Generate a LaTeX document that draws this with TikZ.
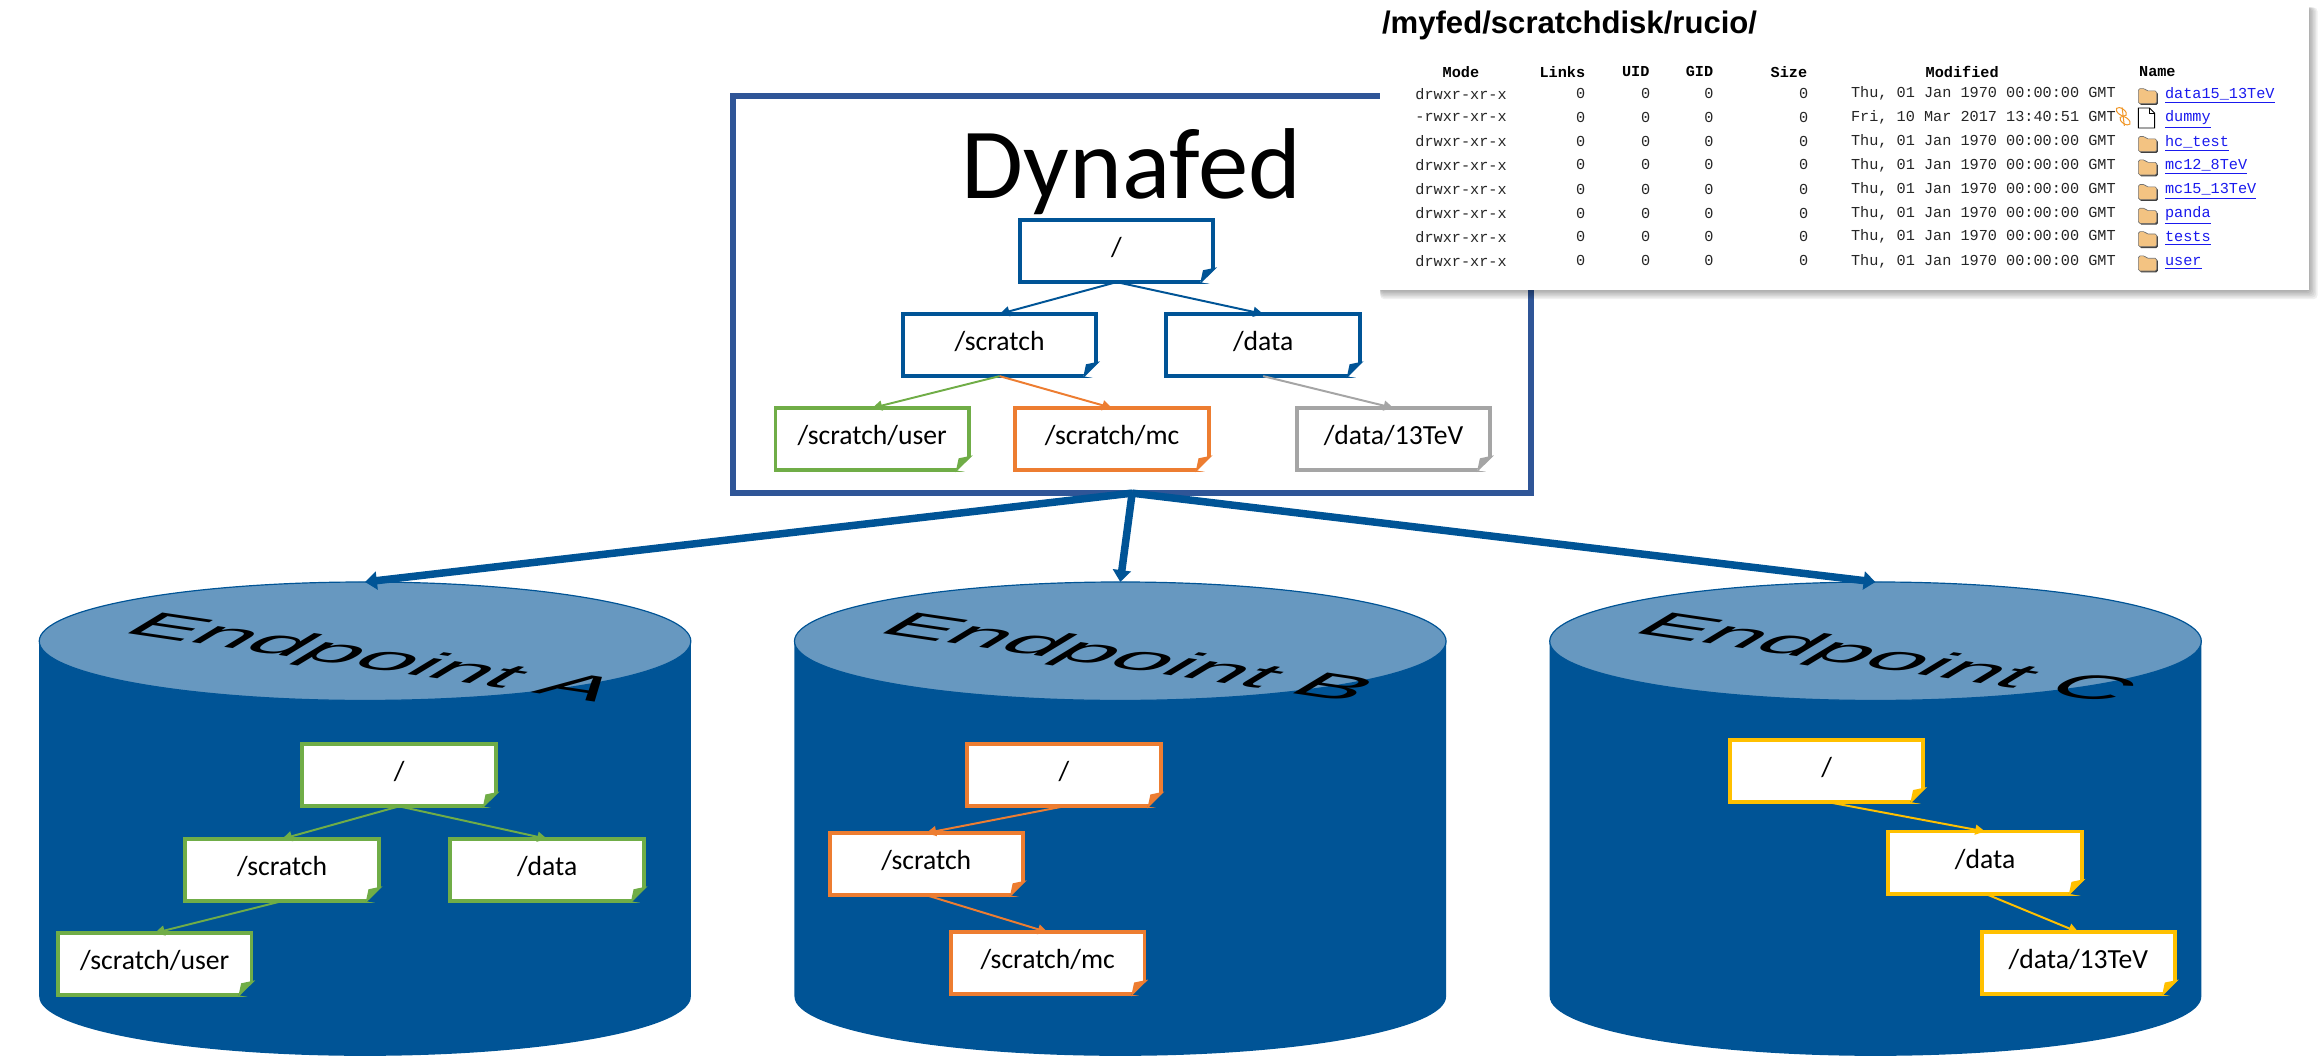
\documentclass[tikz,border=0pt]{standalone}
\usepackage{fontspec}
\usepackage{xcolor}
\usepackage{tikz}
\usetikzlibrary{arrows.meta, calc}
\setmainfont{Carlito}
\newfontfamily\titlefont{Liberation Sans}
\newfontfamily\listfont{Liberation Mono}
\definecolor{fBlue}{HTML}{005496}
\definecolor{fTop}{HTML}{6798C0}
\definecolor{fFrame}{HTML}{2F5597}
\definecolor{fGreen}{HTML}{70AD47}
\definecolor{fOrange}{HTML}{ED7D31}
\definecolor{fGrey}{HTML}{A5A5A5}
\definecolor{fYellow}{HTML}{FFC000}
\definecolor{fLink}{HTML}{1A1AEE}
\definecolor{fFolder}{HTML}{F3C382}
\tikzstyle{fFrameBox} = [rectangle, minimum width=404pt, minimum height=201pt, outer sep=0pt, draw=fFrame, line width=3pt]
\tikzstyle{fNote} = [rectangle, minimum width=98pt, minimum height=31.5pt, inner sep=0pt, outer sep=0pt, line width=2pt, fill=white, font=\fontsize{14}{14}\selectfont, text height=9pt, text depth=3.5pt, text=black]
\tikzstyle{fBarrel} = [rectangle, minimum width=330pt, minimum height=240pt, inner sep=0pt, outer sep=0pt]
\tikzstyle{fTilted} = [cm={2.46,-0.365,1.259,0.762,(0,0)}, anchor=base west, inner sep=0pt, font=\titlefont\fontsize{20}{20}\selectfont, text=black]
\tikzstyle{fArrow} = [line width=1pt, -{Triangle[length=5pt,width=5pt]}]
\tikzstyle{fBigArrow} = [line width=3.8pt, draw=fBlue, -{Triangle[length=6pt,width=9pt]}]
\tikzstyle{fCell} = [inner sep=0pt, outer sep=0pt, font=\listfont\fontsize{7.7}{8}\selectfont, text=black!85]
\tikzstyle{fHead} = [fCell, font=\listfont\bfseries\fontsize{7.7}{8}\selectfont, text=black]
\tikzset{
  pics/fFolderIcon/.style={code={
    \fill[black!75, rounded corners=0.8pt, shift={(0.8,0.9)}] (0,6.8) -- (0,-3.4) -- (4.5,-3.4) -- (5.5,-1.8) -- (12.4,-1.8) -- (12.4,6.8) -- cycle;
    \filldraw[fill=fFolder, draw=black!55, line width=.3pt, rounded corners=0.8pt] (0,6.8) -- (0,-3.4) -- (4.5,-3.4) -- (5.5,-1.8) -- (12.4,-1.8) -- (12.4,6.8) -- cycle;
  }},
  pics/fPageIcon/.style={code={
    \filldraw[fill=white, draw=black, line width=.45pt] (0,-6.3) -- (7.5,-6.3) -- (11,-2.8) -- (11,7.2) -- (0,7.2) -- cycle;
    \draw[black, line width=.35pt] (7.5,-6.3) -- (7.5,-2.8) -- (11,-2.8);
  }}
}
\newcommand{\foldCorner}[3]{
  \fill[#3] ($(#1.south east)+(-9,0)$) -- ($(#1.south east)+(2.5,2)$) -- ($(#1.south east)+(2.5,-10)$) -- cycle;
  \fill[#2] ($(#1.south east)+(-9,1.4)$) -- ($(#1.south east)+(-7,-8)$) -- ($(#1.south east)+(2.5,-10)$) -- cycle;
}

\begin{document}
\begin{tikzpicture}[x=0.75pt, y=-0.75pt]
    \useasboundingbox (0,0) rectangle (1568,713.76);

    \node (dynBox) [fFrameBox] at (764.5,199) {};
    \node (dynTitle) [font=\fontsize{51}{51}\selectfont, inner sep=0pt] at (764,116) {Dynafed};

    \node (dynRoot) [fNote, draw=fBlue] at (754,169.5) {/};
    \node (dynScratch) [fNote, draw=fBlue] at (675,233) {/scratch};
    \node (dynData) [fNote, draw=fBlue] at (853,233) {/data};
    \node (dynUser) [fNote, draw=fGreen] at (589,296.5) {/scratch/user};
    \node (dynMc) [fNote, draw=fOrange] at (751,296.5) {/scratch/mc};
    \node (dynTeV) [fNote, draw=fGrey] at (941,296.5) {/data/13TeV};

    \node (endA) [fBarrel] at (246.5,553) {};
    \node (endB) [fBarrel] at (756.5,553) {};
    \node (endC) [fBarrel] at (1266.5,553) {};
    \foreach \n in {endA,endB,endC}{
        \fill[fBlue] ($(\n.north west)+(0,40)$) -- ($(\n.south west)+(0,-40)$) arc[start angle=180, end angle=360, x radius=165pt, y radius=30pt] -- ($(\n.north east)+(0,40)$) -- cycle;
        \filldraw[fill=fTop, draw=fBlue, line width=.6pt] ($(\n.north)+(0,40)$) ellipse [x radius=165pt, y radius=30pt];
    }
    \node (labelA) [fTilted] at (80.6,426.7) {Endpoint A};
    \node (labelB) [fTilted] at (590.6,426.7) {Endpoint B};
    \node (labelC) [fTilted] at (1100.6,426.7) {Endpoint C};

    \node (aRoot) [fNote, draw=fGreen] at (269.5,523.5) {/};
    \node (aScratch) [fNote, draw=fGreen] at (190.5,587.5) {/scratch};
    \node (aData) [fNote, draw=fGreen] at (369.5,587.5) {/data};
    \node (aUser) [fNote, draw=fGreen] at (104.5,651) {/scratch/user};

    \node (bRoot) [fNote, draw=fOrange] at (718.5,523.5) {/};
    \node (bScratch) [fNote, draw=fOrange] at (625.5,583.5) {/scratch};
    \node (bMc) [fNote, draw=fOrange] at (707.5,650.5) {/scratch/mc};

    \node (cRoot) [fNote, draw=fYellow] at (1233.5,520.5) {/};
    \node (cData) [fNote, draw=fYellow] at (1340.5,582.5) {/data};
    \node (cTeV) [fNote, draw=fYellow] at (1403.5,650.5) {/data/13TeV};

    \foreach \n/\c/\b in {dynRoot/fBlue/white, dynScratch/fBlue/white, dynData/fBlue/white, dynUser/fGreen/white, dynMc/fOrange/white, dynTeV/fGrey/white, aRoot/fGreen/fBlue, aScratch/fGreen/fBlue, aData/fGreen/fBlue, aUser/fGreen/fBlue, bRoot/fOrange/fBlue, bScratch/fOrange/fBlue, bMc/fOrange/fBlue, cRoot/fYellow/fBlue, cData/fYellow/fBlue, cTeV/fYellow/fBlue}{
        \foldCorner{\n}{\c}{\b}
    }

    \draw [fArrow, fBlue] (dynRoot.south) -- (dynScratch.north);
    \draw [fArrow, fBlue] (dynRoot.south) -- (dynData.north);
    \draw [fArrow, fGreen] (dynScratch.south) -- (dynUser.north);
    \draw [fArrow, fOrange] (dynScratch.south) -- (dynMc.north);
    \draw [fArrow, fGrey] (dynData.south) -- (dynTeV.north);
    \draw [fArrow, fGreen] (aRoot.south) -- (aScratch.north);
    \draw [fArrow, fGreen] (aRoot.south) -- (aData.north);
    \draw [fArrow, fGreen] (aScratch.south) -- (aUser.north);
    \draw [fArrow, fOrange] (bRoot.south) -- (bScratch.north);
    \draw [fArrow, fOrange] (bScratch.south) -- (bMc.north);
    \draw [fArrow, fYellow] (cRoot.south) -- (cData.north);
    \draw [fArrow, fYellow] (cData.south) -- (cTeV.north);

    \draw [fBigArrow] (dynBox.south) -- (endA.north);
    \draw [fBigArrow] (dynBox.south) -- (endB.north);
    \draw [fBigArrow] (dynBox.south) -- (endC.north);

    \foreach \s in {6,5,4,3,2,1}{
        \fill[black, opacity=0.06, rounded corners=2pt] (932,5) rectangle (1559+\s,196+\s);
    }
    \node (panel) [fill=white, minimum width=470.5pt, minimum height=144.75pt, inner sep=0pt, outer sep=0pt] at (1245.5,99.5) {};
    \node (panelTitle) [anchor=base west, inner sep=0pt, font=\titlefont\bfseries\fontsize{15.75}{16}\selectfont] at (933,22.5) {/myfed/scratchdisk/rucio/};

    \node (headMode) [fHead] at (986.5,48.4) {Mode};
    \node (headLinks) [fHead] at (1055,48.4) {Links};
    \node (headUid) [fHead] at (1104.6,48.4) {UID};
    \node (headGid) [fHead] at (1147.6,48.4) {GID};
    \node (headSize) [fHead] at (1208,48.4) {Size};
    \node (headModified) [fHead] at (1325,48.4) {Modified};
    \node (headName) [fHead, anchor=west] at (1444.5,48.4) {Name};

    \foreach \y/\mode/\date/\name [count=\i] in {
        63.2/drwxr-xr-x/{Thu, 01 Jan 1970 00:00:00 GMT}/data15\_13TeV,
        79.2/-rwxr-xr-x/{Fri, 10 Mar 2017 13:40:51 GMT}/dummy,
        95.6/drwxr-xr-x/{Thu, 01 Jan 1970 00:00:00 GMT}/hc\_test,
        111.4/drwxr-xr-x/{Thu, 01 Jan 1970 00:00:00 GMT}/mc12\_8TeV,
        128/drwxr-xr-x/{Thu, 01 Jan 1970 00:00:00 GMT}/mc15\_13TeV,
        144/drwxr-xr-x/{Thu, 01 Jan 1970 00:00:00 GMT}/panda,
        159.8/drwxr-xr-x/{Thu, 01 Jan 1970 00:00:00 GMT}/tests,
        176.2/drwxr-xr-x/{Thu, 01 Jan 1970 00:00:00 GMT}/user}{
        \node (mode\i) [fCell, anchor=west] at (955.8,\y) {\mode};
        \node (links\i) [fCell, anchor=east] at (1070.5,\y) {0};
        \node (uid\i) [fCell, anchor=east] at (1114.4,\y) {0};
        \node (gid\i) [fCell, anchor=east] at (1157,\y) {0};
        \node (size\i) [fCell, anchor=east] at (1221,\y) {0};
        \node (date\i) [fCell, anchor=west] at (1250,\y) {\date};
        \node (name\i) [fCell, anchor=base west, text=fLink] at (1462,\y+3) {\underline{\name}};
        \ifnum\i=2
            \pic at (1444,\y) {fPageIcon};
        \else
            \pic at (1444,\y) {fFolderIcon};
        \fi
    }
    \draw[fOrange!80!yellow, line width=.5pt, rotate around={-35:(1432.5,75.5)}] (1432.5,75.5) ellipse [x radius=3pt, y radius=1.6pt];
    \draw[fOrange!80!yellow, line width=.5pt, rotate around={-35:(1435,81.5)}] (1435,81.5) ellipse [x radius=3pt, y radius=1.6pt];
    \draw[fOrange!80!yellow, line width=.5pt] (1433,72.5) -- (1434.5,85);
\end{tikzpicture}
\end{document}
